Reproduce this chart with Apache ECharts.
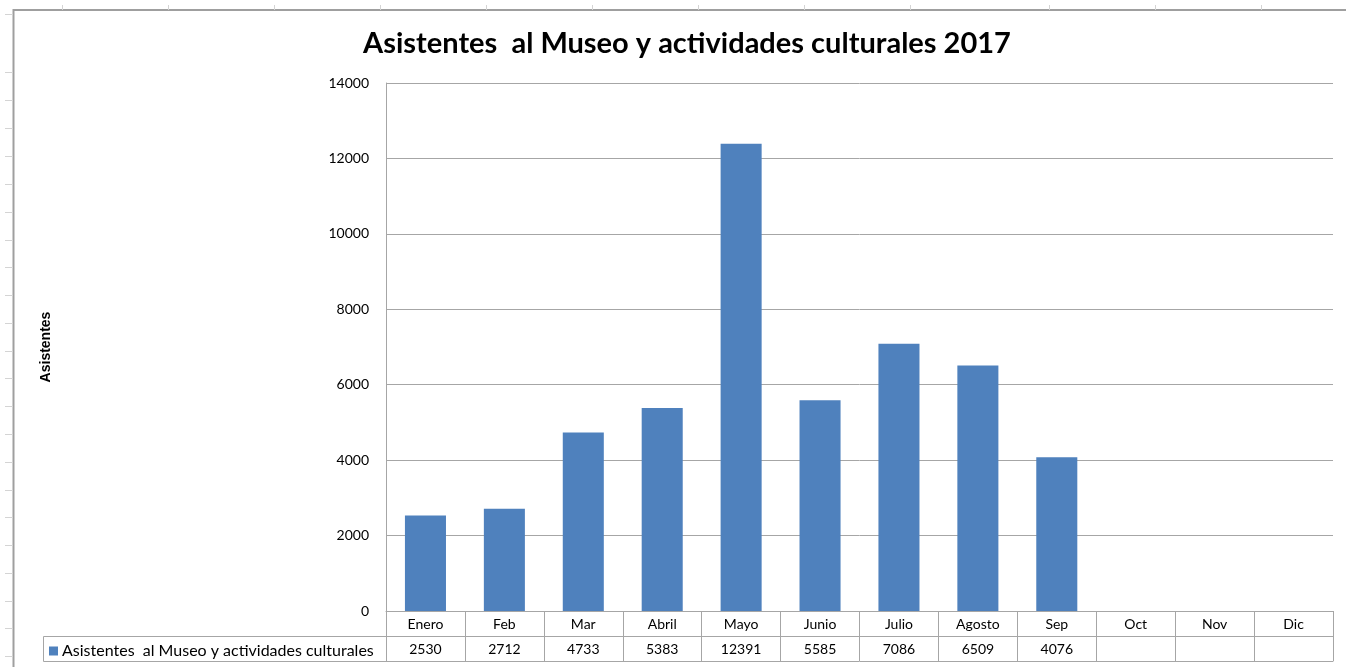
<!DOCTYPE html>
<html>
<head>
<meta charset="utf-8">
<script src="https://cdn.jsdelivr.net/npm/echarts@6/dist/echarts.min.js"></script>
<style>
html,body{margin:0;padding:0;background:#fff;}
#chart{width:1346px;height:667px;}
</style>
</head>
<body>
<div id="chart"></div>
<script>
var categories = ['Enero','Feb','Mar','Abril','Mayo','Junio','Julio','Agosto','Sep','Oct','Nov','Dic'];
var asistentes = [2530, 2712, 4733, 5383, 12391, 5585, 7086, 6509, 4076, null, null, null];
var seriesName = 'Asistentes  al Museo y actividades culturales';
var titleText = 'Asistentes  al Museo y actividades culturales 2017';
var yTicks = {min: 0, max: 14000, interval: 2000};

// spreadsheet cell border marks outside the chart frame
var sheetRowMarks = [14, 72, 100, 128, 156, 184, 212, 240, 267, 295, 323, 351, 378, 406, 434, 462, 490, 517, 545, 573, 601, 628, 656];
var sheetColMarks = [62, 168, 274, 380, 486, 592, 698, 804, 910, 1049, 1155, 1261];

var gridColor = '#a6a6a6';
var barColor = '#4f81bd';
var font = 'Lato, "Open Sans", sans-serif';

var graphics = [];
sheetRowMarks.forEach(function (y) {
  graphics.push({type: 'line', silent: true, shape: {x1: 5, y1: y + 0.5, x2: 13, y2: y + 0.5}, style: {stroke: '#d4d4d4', lineWidth: 1}});
});
sheetColMarks.forEach(function (x) {
  graphics.push({type: 'line', silent: true, shape: {x1: x + 0.5, y1: 5, x2: x + 0.5, y2: 10}, style: {stroke: '#d4d4d4', lineWidth: 1}});
});
// chart frame
graphics.push({type: 'rect', silent: true, z: -1, shape: {x: 13.5, y: 10, width: 1400, height: 700}, style: {fill: '#fff', stroke: '#9f9f9f', lineWidth: 2}});
// legend cell of data table
graphics.push({type: 'rect', silent: true, shape: {x: 43.5, y: 636.5, width: 343, height: 25}, style: {fill: 'none', stroke: gridColor, lineWidth: 1}});

var chart = echarts.init(document.getElementById('chart'));
chart.setOption({
  animation: false,
  textStyle: {fontFamily: font},
  title: {
    text: titleText,
    left: 682, top: 24, textAlign: 'center',
    textStyle: {fontFamily: font, fontSize: 29, fontWeight: 'bold', color: '#000'}
  },
  legend: {
    data: [seriesName],
    left: 44, top: 638,
    itemWidth: 9, itemHeight: 9, itemGap: 5,
    icon: 'rect',
    textStyle: {fontFamily: font, fontSize: 16, color: '#000', padding: [0,0,0,-1]}
  },
  graphic: graphics,
  grid: {left: 386, right: 13, top: 83, bottom: 56, containLabel: false},
  xAxis: [
    {
      type: 'category', data: categories, position: 'bottom',
      axisLine: {show: true, lineStyle: {color: gridColor, width: 1}},
      axisTick: {show: true, alignWithLabel: false, length: 50, inside: false, lineStyle: {color: gridColor, width: 1}},
      axisLabel: {margin: 6, fontSize: 14, color: '#000', fontFamily: font, interval: 0},
      splitLine: {show: false}
    },
    {
      type: 'category', data: categories, position: 'bottom', offset: 25,
      axisLine: {show: true, lineStyle: {color: gridColor, width: 1}},
      axisTick: {show: false},
      axisLabel: {margin: 6, fontSize: 14, color: '#000', fontFamily: font, interval: 0,
        formatter: function (v, i) { return asistentes[i] == null ? '' : String(asistentes[i]); }},
      splitLine: {show: false}
    },
    {
      type: 'category', data: categories, position: 'bottom', offset: 50,
      axisLine: {show: true, lineStyle: {color: gridColor, width: 1}},
      axisTick: {show: false},
      axisLabel: {show: false},
      splitLine: {show: false}
    }
  ],
  yAxis: {
    type: 'value', min: yTicks.min, max: yTicks.max, interval: yTicks.interval,
    name: 'Asistentes', nameLocation: 'middle', nameGap: 333, nameRotate: 90,
    nameTextStyle: {fontFamily: '"Liberation Sans", Arial, sans-serif', fontWeight: 'bold', fontSize: 14, color: '#000'},
    axisLine: {show: true, lineStyle: {color: gridColor, width: 1}},
    axisTick: {show: false},
    axisLabel: {margin: 17, fontSize: 14, color: '#000', fontFamily: font,
      formatter: function (v) { return String(v); }},
    splitLine: {show: true, lineStyle: {color: gridColor, width: 1}}
  },
  series: [{
    name: seriesName,
    type: 'bar',
    xAxisIndex: 0,
    data: asistentes,
    barWidth: '52%',
    itemStyle: {color: barColor}
  }]
});
</script>
</body>
</html>
